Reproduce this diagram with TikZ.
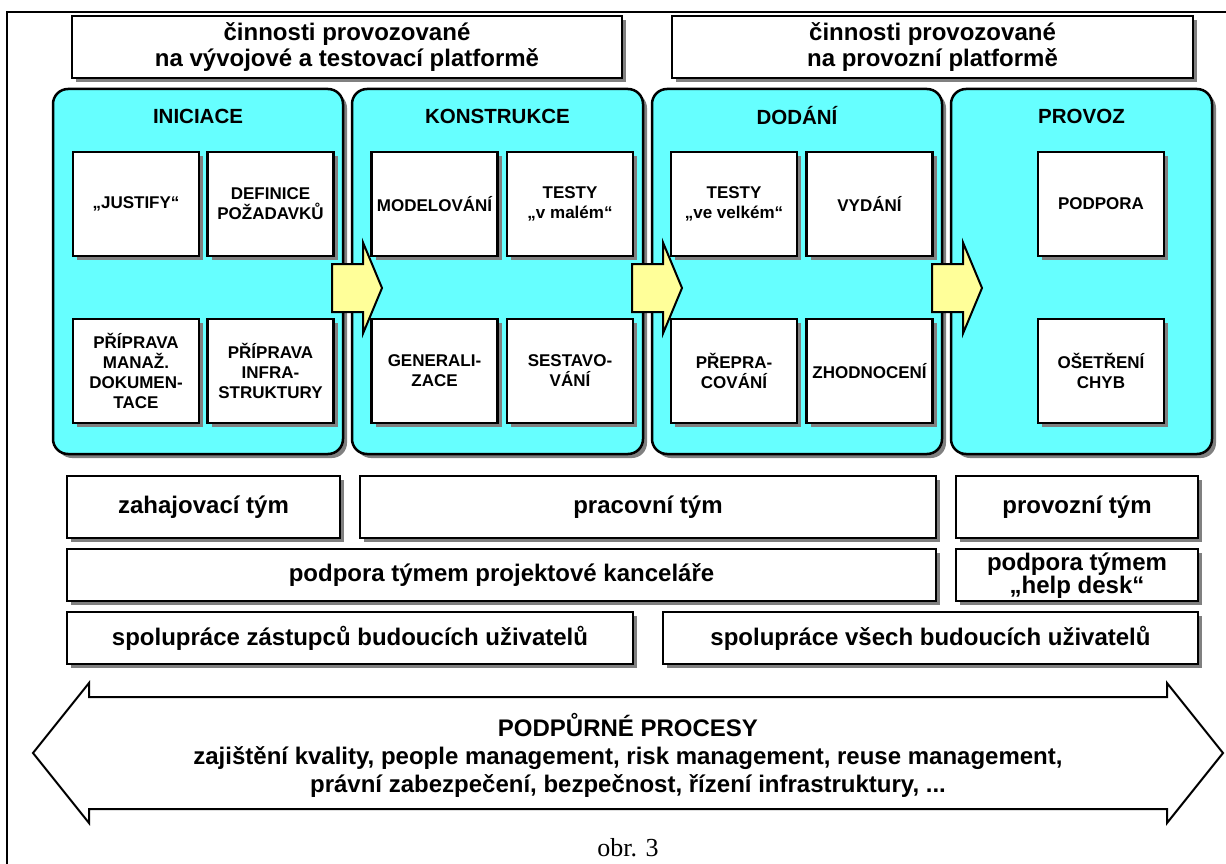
\documentclass[tikz,border=0pt]{standalone}
\usepackage{fontspec}
\setmainfont{Liberation Sans}
\newfontfamily\captionserif{Liberation Serif}
\usetikzlibrary{shadows}
\definecolor{PhaseCyan}{HTML}{66FFFF}
\definecolor{StepYellow}{HTML}{FFFF99}
\definecolor{ShadowGray}{HTML}{808080}
\tikzset{
  boxshadow/.style={drop shadow={shadow xshift=4pt, shadow yshift=-4pt, fill=ShadowGray, opacity=1}},
  platbox/.style={draw, line width=2pt, fill=white, boxshadow, align=center, inner sep=0pt, minimum height=62pt, font=\fontsize{24}{26}\selectfont\bfseries},
  phasebox/.style={draw, line width=2.5pt, fill=PhaseCyan, rounded corners=15pt, boxshadow, inner sep=0pt, minimum height=365pt},
  phasetitle/.style={font=\fontsize{20.5}{24}\selectfont\bfseries},
  taskbox/.style={draw, line width=2.5pt, fill=white, boxshadow, align=center, inner sep=0pt, minimum width=126pt, minimum height=104pt, font=\fontsize{17}{20}\selectfont\bfseries},
  teambox/.style={draw, line width=2pt, fill=white, boxshadow, align=center, inner sep=0pt, font=\fontsize{24}{23}\selectfont\bfseries},
  flowarrow/.style={draw, line width=2pt, fill=StepYellow, line join=miter},
  supportarrow/.style={draw, line width=2pt, fill=white, line join=miter}
}

\begin{document}
\begin{tikzpicture}[x=1pt, y=-1pt]
  \useasboundingbox (0,0) rectangle (1226,864);
  \draw[line width=2pt] (7,864) -- (7,12) -- (1226,12);

  % platformy
  \node[platbox, minimum width=550pt] (devplat) at (347,47) {činnosti provozované\\na vývojové a testovací platformě};
  \node[platbox, minimum width=521pt] (opplat) at (932.5,47) {činnosti provozované\\na provozní platformě};

  % faze
  \node[phasebox, minimum width=290pt] (iniciace) at (198,271.5) {};
  \node[phasebox, minimum width=291pt] (konstrukce) at (497.5,271.5) {};
  \node[phasebox, minimum width=290pt] (dodani) at (797,271.5) {};
  \node[phasebox, minimum width=261pt] (provoz) at (1081.5,271.5) {};
  \node[phasetitle] (iniciacetitle) at (198,116) {INICIACE};
  \node[phasetitle] (konstrukcetitle) at (497.5,116) {KONSTRUKCE};
  \node[phasetitle] (dodanititle) at (797,116) {DODÁNÍ};
  \node[phasetitle] (provoztitle) at (1081.5,116) {PROVOZ};

  % cinnosti
  \node[taskbox] (justify) at (136,204) {„JUSTIFY“};
  \node[taskbox] (definice) at (270.5,204) {DEFINICE\\POŽADAVKŮ};
  \node[taskbox] (pripmanaz) at (136,371) {PŘÍPRAVA\\MANAŽ.\\DOKUMEN-\\TACE};
  \node[taskbox] (pripinfra) at (270.5,371) {PŘÍPRAVA\\INFRA-\\STRUKTURY};
  \node[taskbox] (modelovani) at (434.5,204) {MODELOVÁNÍ};
  \node[taskbox] (testymale) at (570,204) {TESTY\\„v malém“};
  \node[taskbox] (generalizace) at (434.5,371) {GENERALI-\\ZACE};
  \node[taskbox] (sestavovani) at (570,371) {SESTAVO-\\VÁNÍ};
  \node[taskbox] (testyvelke) at (734,204) {TESTY\\„ve velkém“};
  \node[taskbox] (vydani) at (869.5,204) {VYDÁNÍ};
  \node[taskbox] (prepracovani) at (734,371) {PŘEPRA-\\COVÁNÍ};
  \node[taskbox] (zhodnoceni) at (869.5,371) {ZHODNOCENÍ};
  \node[taskbox] (podpora) at (1101,204) {PODPORA};
  \node[taskbox] (osetreni) at (1101,371) {OŠETŘENÍ\\CHYB};

  % prechody mezi fazemi
  \foreach \x in {332,632,932} {
    \draw[flowarrow] (\x,264) -- (\x+31,264) -- (\x+31,242.5) -- (\x+50,288)
      -- (\x+31,333.5) -- (\x+31,312) -- (\x,312) -- cycle;
  }

  % tymy
  \node[teambox, minimum width=273pt, minimum height=62pt] (zahtym) at (203.5,507) {zahajovací tým};
  \node[teambox, minimum width=576pt, minimum height=62pt] (practym) at (648,507) {pracovní tým};
  \node[teambox, minimum width=242pt, minimum height=62pt] (provtym) at (1077,507) {provozní tým};
  \node[teambox, minimum width=869pt, minimum height=52pt] (kancelar) at (501.5,575) {podpora týmem projektové kanceláře};
  \node[teambox, minimum width=242pt, minimum height=52pt, text height=44pt, text depth=8pt] (helpdesk) at (1077,575) {podpora týmem\\„help desk“};
  \node[teambox, minimum width=566pt, minimum height=52pt] (zastupci) at (350,638) {spolupráce zástupců budoucích uživatelů};
  \node[teambox, minimum width=535pt, minimum height=52pt] (vsichni) at (930.5,638) {spolupráce všech budoucích uživatelů};

  % podpurne procesy
  \draw[supportarrow] (33,753) -- (89,683) -- (89,697) -- (1167,697) -- (1167,683) -- (1223,753)
    -- (1167,823) -- (1167,809) -- (89,809) -- (89,823) -- cycle;
  \node[align=center, font=\fontsize{24}{28}\selectfont\bfseries] (procesy) at (628,755)
    {PODPŮRNÉ PROCESY\\zajištění kvality, people management, risk management, reuse management,\\právní zabezpečení, bezpečnost, řízení infrastruktury, ...};

  \node[font=\captionserif\fontsize{26}{30}\selectfont] (obrazek) at (628,848) {obr. 3};
\end{tikzpicture}
\end{document}
